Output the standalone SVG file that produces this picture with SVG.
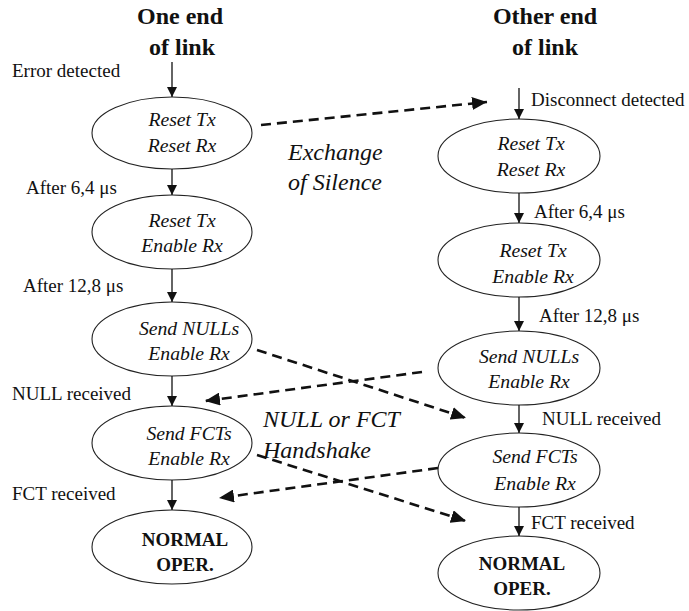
<svg xmlns="http://www.w3.org/2000/svg" width="689" height="611" viewBox="0 0 689 611">
<defs>
<style>
.bg{fill:#fff}
.node ellipse{fill:#fff;stroke:#222;stroke-width:1.1}
.st{font-family:"Liberation Serif","Times New Roman",serif;font-style:italic;font-size:19.7px;fill:#111;text-anchor:middle}
.bd{font-family:"Liberation Serif","Times New Roman",serif;font-weight:bold;font-size:19px;fill:#111;text-anchor:middle}
.title{font-family:"Liberation Serif","Times New Roman",serif;font-weight:bold;font-size:24px;fill:#111;text-anchor:middle}
.lbl{font-family:"Liberation Serif","Times New Roman",serif;font-size:19px;fill:#111}
.big{font-family:"Liberation Serif","Times New Roman",serif;font-style:italic;font-size:24px;fill:#111}
.solid{stroke:#111;stroke-width:1.3;fill:none}
.dash{stroke:#111;stroke-width:2.6;fill:none;stroke-dasharray:10 6}
</style>
<marker id="ah" markerUnits="userSpaceOnUse" markerWidth="10" markerHeight="10" refX="10" refY="5" orient="auto">
<path d="M0,0 L10,5 L0,10 z" fill="#111"/>
</marker>
<marker id="dh" markerUnits="userSpaceOnUse" markerWidth="15" markerHeight="13" refX="15" refY="6.5" orient="auto">
<path d="M0,0 L15,6.5 L0,13 z" fill="#111"/>
</marker>
</defs>
<rect class="bg" x="0" y="0" width="689" height="611"/>

<g id="titles">
<text class="title" x="180" y="24">One end</text>
<text class="title" x="182" y="55">of link</text>
<text class="title" x="545" y="24">Other end</text>
<text class="title" x="545" y="55">of link</text>
</g>

<g id="labels">
<text class="lbl" x="12" y="77">Error detected</text>
<text class="lbl" x="26" y="194">After 6,4 μs</text>
<text class="lbl" x="23" y="292">After 12,8 μs</text>
<text class="lbl" x="12" y="400">NULL received</text>
<text class="lbl" x="12" y="500">FCT received</text>
<text class="lbl" x="531" y="106">Disconnect detected</text>
<text class="lbl" x="534" y="218">After 6,4 μs</text>
<text class="lbl" x="539" y="322">After 12,8 μs</text>
<text class="lbl" x="542" y="425">NULL received</text>
<text class="lbl" x="531" y="529">FCT received</text>
<text class="big" x="288" y="160">Exchange</text>
<text class="big" x="288" y="190">of Silence</text>
<text class="big" x="263" y="427">NULL or FCT</text>
<text class="big" x="263" y="458">Handshake</text>
</g>

<g id="L1" class="node"><ellipse cx="172" cy="133" rx="80" ry="36"/><text class="st" x="182" y="126">Reset Tx</text><text class="st" x="182" y="152">Reset Rx</text></g>
<g id="L2" class="node"><ellipse cx="172" cy="232" rx="80" ry="37"/><text class="st" x="182" y="227">Reset Tx</text><text class="st" x="182" y="252">Enable Rx</text></g>
<g id="L3" class="node"><ellipse cx="172" cy="339" rx="80" ry="37"/><text class="st" x="189" y="335">Send NULLs</text><text class="st" x="189" y="360">Enable Rx</text></g>
<g id="L4" class="node"><ellipse cx="172" cy="443" rx="80" ry="37"/><text class="st" x="189" y="440">Send FCTs</text><text class="st" x="189" y="465">Enable Rx</text></g>
<g id="L5" class="node"><ellipse cx="172" cy="547" rx="80" ry="37"/><text class="bd" x="185" y="546">NORMAL</text><text class="bd" x="185" y="571">OPER.</text></g>

<g id="R1" class="node"><ellipse cx="519" cy="156" rx="81" ry="37"/><text class="st" x="531" y="150">Reset Tx</text><text class="st" x="531" y="176">Reset Rx</text></g>
<g id="R2" class="node"><ellipse cx="519" cy="260" rx="81" ry="37"/><text class="st" x="533" y="257">Reset Tx</text><text class="st" x="533" y="283">Enable Rx</text></g>
<g id="R3" class="node"><ellipse cx="519" cy="368" rx="81" ry="37"/><text class="st" x="529" y="363">Send NULLs</text><text class="st" x="529" y="388">Enable Rx</text></g>
<g id="R4" class="node"><ellipse cx="519" cy="470" rx="81" ry="37"/><text class="st" x="535" y="463">Send FCTs</text><text class="st" x="535" y="490">Enable Rx</text></g>
<g id="R5" class="node"><ellipse cx="519" cy="573" rx="81" ry="37"/><text class="bd" x="522" y="570">NORMAL</text><text class="bd" x="522" y="595">OPER.</text></g>

<g id="connectors">
<line class="solid" x1="172" y1="62" x2="172" y2="97" marker-end="url(#ah)"/>
<line class="solid" x1="172" y1="169" x2="172" y2="195" marker-end="url(#ah)"/>
<line class="solid" x1="172" y1="269" x2="172" y2="302" marker-end="url(#ah)"/>
<line class="solid" x1="172" y1="376" x2="172" y2="406" marker-end="url(#ah)"/>
<line class="solid" x1="172" y1="480" x2="172" y2="510" marker-end="url(#ah)"/>
<line class="solid" x1="519" y1="88" x2="519" y2="119" marker-end="url(#ah)"/>
<line class="solid" x1="519" y1="193" x2="519" y2="223" marker-end="url(#ah)"/>
<line class="solid" x1="519" y1="297" x2="519" y2="331" marker-end="url(#ah)"/>
<line class="solid" x1="519" y1="405" x2="519" y2="433" marker-end="url(#ah)"/>
<line class="solid" x1="519" y1="507" x2="519" y2="536" marker-end="url(#ah)"/>
<line class="dash" x1="261" y1="125" x2="487" y2="102" marker-end="url(#dh)"/>
<line class="dash" x1="257" y1="350" x2="466" y2="418" marker-end="url(#dh)"/>
<line class="dash" x1="422" y1="372" x2="205" y2="401" marker-end="url(#dh)"/>
<line class="dash" x1="257" y1="455" x2="466" y2="521" marker-end="url(#dh)"/>
<line class="dash" x1="438" y1="468" x2="219" y2="498" marker-end="url(#dh)"/>
</g>
</svg>
